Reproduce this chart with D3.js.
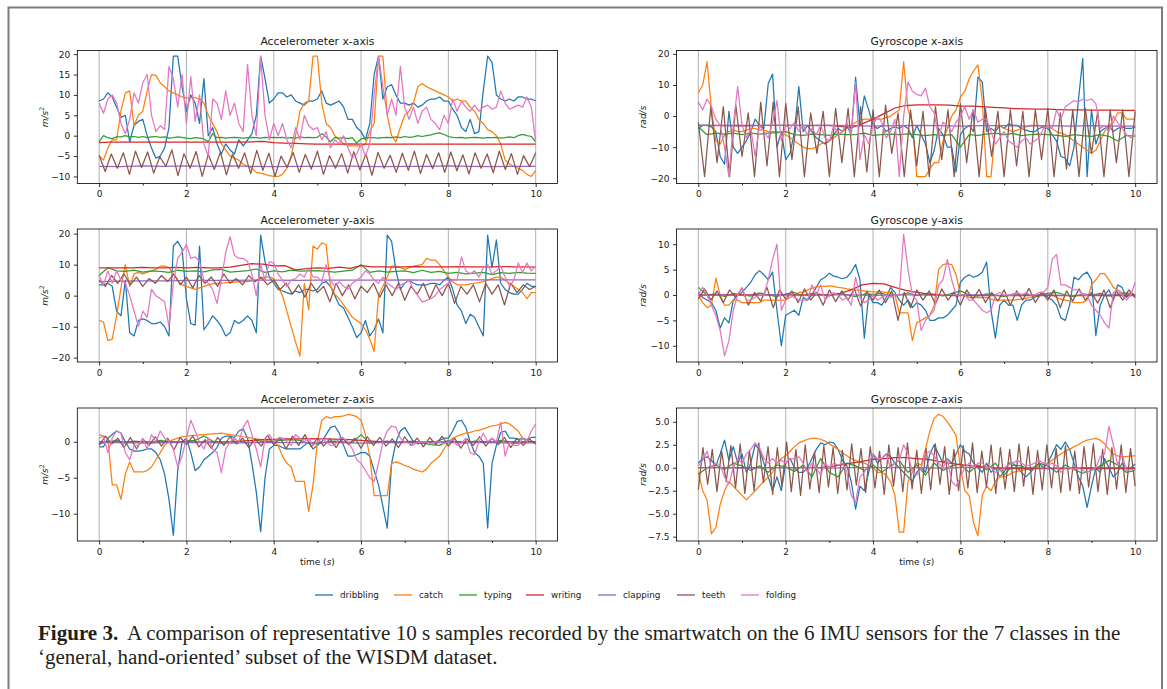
<!DOCTYPE html>
<html><head><meta charset="utf-8">
<script src="https://cdn.jsdelivr.net/npm/d3@7"></script>
<style>body{margin:0;background:#fff}svg{display:block}</style>
</head><body>
<svg id="c" width="1167" height="689"></svg>
<script>
// ---------------- DATA ----------------
const classes = ["dribbling","catch","typing","writing","clapping","teeth","folding"];
const colors = ["#1f77b4","#ff7f0e","#2ca02c","#d62728","#9467bd","#8c564b","#e377c2"];
const xTicks = [0,2,4,6,8,10];
const xMinorTicks = [1,3,5,7,9];
const xDomain = [-0.5,10.5];
const duration = 10; // seconds per sample

const accXTicks = [-10,-5,0,5,10,15,20];
const accYTicks = [-20,-10,0,10,20];
const accZTicks = [-10,-5,0];
const gyroXTicks = [-20,-10,0,10,20];
const gyroYTicks = [-10,-5,0,5,10];
const gyroZTicks = [-7.5,-5,-2.5,0,2.5,5];

const accXDomain = [-11.73,20.9];
const accYDomain = [-21.4,21.5];
const accZDomain = [-13.8,4.7];
const gyroXDomain = [-21.7,21.1];
const gyroYDomain = [-13.2,13.0];
const gyroZDomain = [-7.97,6.5];

// ---- Accelerometer x ----
const accX_dribbling = [8.5,9,10.5,9.5,7,4.5,5,-1.5,2.5,3.5,
4,0,-3,-5.5,-5,-3,2,19.5,19.5,12,
6,10,8,3,14,0,2,-2,-4.5,-2,
-3.5,-4.5,-1,-2.5,-1,0.5,5,19.5,14,8,
9,10.5,10.5,9.5,10,8.5,8,7.5,8.5,8.5,
9,11,8,7.5,8,8.5,7,4,4,2,
1,-1,3,15,19.5,9,12,12.5,10,8,
8,7.5,8,7,7.5,8.5,9,9,9.5,8.5,
8.5,6.5,5,2,1,4,0.5,1,11,19.5,
18,10,9,8.5,9,8.5,9.5,9.5,9,9,
8.5];
const accX_catch = [-5,-6,-3,-1,-1,6,10.5,11,2.5,5,
6,11,15,14.8,13,12,11,10.5,10,9.5,
9.3,9.3,9.3,9,8,5,3,1,-2,-3.5,
-5,-5.5,-6,-7,-7.5,-8,-9,-9.2,-9.5,-9.8,
-10,-10,-9.5,-8,-5,0,6,8,8.5,19.5,
19.5,8,3,2,0,-1,-2,-2.5,-2.5,-2.5,
-2.5,-2,1,3,19.5,19.5,5,0,-1.5,2,
5,6,8,12,12.8,12,11.5,11,10.5,10,
9.5,8.5,9,8.5,8.5,7,6,4,3,1.5,
1,0,-2,-6,-7,-7.5,-8,-8.5,-9.5,-10,
-8.5];
const accX_typing = [-1.5,0,-0.5,-0.7,-0.3,-0.3,0,-0.3,-0.2,-0.4,
-0.2,-0.5,-0.3,-0.2,-0.4,-0.3,-0.6,-0.5,-0.3,-0.4,
-0.6,-0.7,-0.5,-0.6,-0.8,-1.5,0.5,-0.5,-0.4,-0.6,
-0.5,-0.4,-0.5,-0.6,-0.5,-0.4,-0.5,-0.6,-0.4,-0.5,
-0.4,-0.5,-0.4,-0.6,-0.5,-0.6,-0.3,-0.5,-0.4,-0.5,
-0.4,0.5,-0.3,-1.5,-0.4,-0.6,-0.5,-0.7,-0.5,-1.8,
-0.8,-0.6,-0.5,-0.5,-0.6,-0.5,-0.4,-0.5,-0.3,-0.5,
-0.2,-0.4,-0.3,0,-0.2,0,0.2,0.5,0.7,0.3,
-0.2,-0.4,-0.5,-0.4,-0.6,-0.5,-0.4,-0.5,-0.6,-0.5,
-0.5,-0.4,-0.6,-0.5,-0.3,-0.5,0,0.3,0,-0.2,
-1.5];
const accX_writing = [-1.7,-1.6,-1.6,-1.6,-1.6,-1.6,-1.6,-1.6,-1.6,-1.6,-1.6,-1.6,-1.6,-1.6,-1.5,-1.4,-1.7,-1.8,-1.9,-2.0,-2.1,-2.1,-2.1,-2.0,-2.1,-2.1,-2.1,-2.1,-2.1,-2.1,-2.1,-2.1,-2.1,-2.1,-2.1,-2.1,-2.1,-2.1,-2.1,-2.1,-2.1];
const accX_clapping = [-7.5,-7.6,-7.4,-7.5,-7.4,-7.5,-7.4,-7.5,-7.6,-7.5,-7.5,-7.4,-7.5,-7.6,-7.5,-7.5,-7.4,-7.5,-7.6,-7.5,-7.5];
const accX_teeth = [-4.8,-8.8,-4.5,-8,-4.2,-9.5,-3.8,-7.8,-4,-9.2,-5.2,-7.5,-3.5,-9.8,-4.4,-8,-3.9,-10,-4.6,-8.3,-4,-9.6,-4.5,-8,-4.2,-9.3,-3.6,-8.5,-4.3,-10,-5,-7.8,-4.1,-9,-4.6,-8.2,-3.8,-9.5,-4.9,-8,-4.4,-9.2,-3.9,-8.4,-4.5,-9.7,-4.1,-8,-4.8,-9,-4.3,-8.5,-3.8,-9.3,-4.6,-8.1,-4.2,-9,-4,-8.6,-4.7,-9.4,-4.2,-8,-4.5,-9.1,-3.8,-8.3,-4.4,-9.5,-4.9,-7.6,-4.2];
const accX_folding = [8,5.5,9,10,8,3,0.5,4,10.5,8,
13,15,5,1,2.5,1.5,17,14,7,15,
3,14.5,3.5,10,-2,-5,9,8,4,11,
5,8,3,1,17.5,5,0,19.5,5,-1,
3,0,3,-1,-3,2,-1,5,2.5,1.5,
2,-1,1,-3,-1,-2,0,-3,-5.5,-4.5,
-2,-5,-2,10,19.5,12,5,9,5,17,
7,4,7,3,6,7,4,3,1.5,5,
3,9,6,8.5,7,6,7.5,6,7,7.5,
6.5,7,11,8,6.5,7,7.5,7,9.5,7,
-1.5];

// ---- Gyroscope x ----
const gyroX_dribbling = [-4,-3,-3,-3.5,-5,-13,-15.5,1.5,-10,-12,
-10,-8,-5,-1,-3,-4,10.5,13.5,-10,-5,
-14,-12,-5,9.5,-5,-3,-5,-7,-8,-9,
-8,-6,-4,-5,-3,-6,12.5,-3,6.5,2,
-3,-4,-3,-5,-4,-3.5,-4,-3,-4,-7,
-3,-6,-9,-15,-11,-4,-6,-10,-10,-18,
-6,-4,-3,-5,12.5,11,-5,-4,-5,-3,
-4,-2.5,-3,-3,-4,-4.5,-5,-5,-4,-3.5,
-4,-6,-8,-13,-13.5,-16,-10,5,18.5,-19.5,
2,-9,-5,-4,-3,-5,-4,-3.5,-4,-4,
-3.5];
const gyroX_catch = [7.5,10,17.5,2,-8,-9,-6,-5,-4.5,-5,
-5,-4.5,-4,-4,-4.5,-4.5,-5,-5,-5,-5.5,
-6,-7,-8,-9,-10,-10.5,-10.5,-10,-9,-8.5,
-8,-7,-6,-5,-4,-3,-2,-1.5,-1,-1,
-1,-1,-1,-0.5,0,1,2,17.5,2,-2,
-19.5,-19.5,-19.5,-17,-15,-15,-8,-4,0,2,
6,8,12,14.5,16.5,5,-19.5,-19.5,-4,-3,
-4,-4.5,-5,-4.5,-4,-3.5,-3,-3,-3,-3.2,
-3.5,-4,-5,-5.5,-6,-7,-8,-9,-10,-11,
-12,-11,-8,-5,-3,-2,1,1,-1,-1,
-1];
const gyroX_typing = [-3.5,-6,-5.5,-5.8,-5.5,-6,-5.5,-5.8,-5.5,-5.3,-5,-6,-6.2,-5.8,-6,-6.2,-5.8,-6,-6,-5.5,-6.2,-6,-5.8,-6,-5.7,-6,-6.3,-6,-6.2,-6,-10,-6,-6.2,-5.8,-5.5,-6,-5.6,-6.3,-6,-5.8,-6,-6.2,-6.5,-6,-6.3,-6.5,-6,-6.5,-8,-6.2,-6.5];
const gyroX_writing = [-3,-3,-3,-3,-3,-3,-3,-3,-3,-3,-3,-3,-3,-3.3,-3.7,-2.5,-1,0.8,2.6,3.4,3.6,3.6,3.6,3.5,3.2,3.2,3,2.8,2.6,2.4,2.3,2.2,2.2,2.1,2,2,1.9,1.9,1.9,1.8,1.8];
const gyroX_clapping = [-3,-3.1,-3.2,-3,-3,-3.1,-3,-3.1,-3.2,-3.1,-3,-3.1,-3.2,-3.1,-3.1,-3.2,-3.1,-3.2,-3.1,-3.2,-3.2];
const gyroX_teeth = [-2,-19.5,3,-15,3,-19.5,3.5,-13,1,-19.5,4.5,-16,4.5,-19.5,4,-14,3,-19.5,1,-12,1.5,-19.5,2.5,-15,2.5,-19.5,3,-18,2,-19.5,3.5,-12,1,-19.5,2,-16,1.5,-19.5,3,-14,2,-19.5,4,-15,2,-19.5,2.5,-13,1.5,-19.5,2,-16,1.5,-19.5,2,-14,2.5,-19.5,1,-17,2,-19.5,2.5,-12,1.5,-19.5,2,-15,2,-19.5,1.5];
const gyroX_folding = [4.5,2,5.5,3,-1,-3,-10,-19.5,-3,9.5,
-3,-7,-4,-13,-3,-5,-7,-2,5,-8,
-3,-4,-2,-5,-3,-6,-4,-6,-3,-7,
-8,-3,-6,-5,-2,-6,11,-14,-6,-9,
-3,0,-2,-7,-5,-1,-19.5,0,11,8,
7,6.5,9,3,1,-7,-2,-3,-5,-2,
0,3,-1,2,-2,-1,-1,-5,-9,-7,
-5,-8,-9,-10,-8,-7,-9,-8,-7,-4,
-3,-4,2,-1,3,4,5,4.5,5.5,5,
5.5,4,-4,-3,-5,0,-2,-4,-6,-7,
-6];

// ---- Accelerometer y ----
const accY_dribbling = [3.5,3.5,4,3,-5,-6.5,5,-12,-13,-8,
-7.5,-8,-9,-9,-8.5,-10,-13,16,17.5,15,
-1,-9,-9.5,16,-11,-9,-6.5,-8,-10,-13,
-12,-8,-9,-8,-6.5,-8,-12,19.5,11,6,
4,2,1.5,1,0.5,1.5,1,2,2,1.5,
2,4,4.5,3,0,-3,-4,-7,-10,-13.5,
-12,-8,-13,-11,-7.5,-12,19.5,17.5,8,2,
4,5,4,3.5,3.5,3.5,4,4,3.5,5,
6,2,-3,-5,-9,-6,-7,-10,-13,19.5,
9,18,4,2,1,0.5,0.5,2,4,3,
3];
const accY_catch = [-8,-8.5,-14.5,-14,-6.5,2.5,10,3,7,7.5,
7,7.5,8,8.5,9.5,9.5,9,7,5,3.5,
3,2.5,2,2.5,3,3.5,3.8,4,4,4.2,
4.3,4.4,4.5,4.5,4.5,4.8,5,5.5,6,6,
5.5,3,0,-5,-10,-15,-19.5,4,-4.5,16,
15,17,16.5,3,0.5,-1,-3,-5,-7,-8,
-9,-11,-14,-18,0,3,6,9.5,9.5,9,
8.5,9,9.5,9.8,10,12,11.5,11.5,10,8,
6,4.5,3.5,3.5,3.5,3.8,4,4.2,4.5,5,
5.5,6,6,5,4,3,2,1,-1,1,
1];
const accY_typing = [6.5,9,8,7.8,8.2,7.6,8,7.8,7.5,8.2,7.8,8,7.7,8.3,8.5,7.6,7.8,8.1,8.6,7.5,8,7.7,8.2,7.9,8,8.1,7.8,7.6,7.9,8.2,10,7.5,8,7.6,7.8,8,7.4,8.2,7.5,7.8,7.2,7.5,7,7.3,7.5,6.8,7.4,7.2,7.5,7.3,7.2];
const accY_writing = [9,9,9,9,9.1,9,9,9.1,9,9.1,9,9,9.2,9.8,10.3,10.2,9.6,9.7,8.3,8.7,9,8.8,9.2,8.8,9.7,9.3,9.3,9.2,9.3,9.4,9.3,9.3,9.3,9.4,9.3,9.3,9.3,9.4,9.3,9.3,9.2];
const accY_clapping = [4.5,4.7,4.8,4.8,4.9,4.9,4.9,5,5,4.9,5,5,5,5,5.1,5,5.1,5.1,5.1,5.1,5.1];
const accY_teeth = [5,3,6.5,4,7,3.5,6,3,5.5,4,6.5,4.5,7,3.5,6,2.5,6.5,4,6,3,7,4,5.5,3.5,6.5,4.5,6,3.5,5,2,4,0.5,3.5,-0.5,4,1,3,-2,4,0,3.5,-1,3,1,4,-0.5,3.5,0,4,-1.5,3,0.5,4,-1,3.5,0,4,-2.5,3,0.5,3.5,-2,4,0.5,3.5,-3,4,1,3.5,2,3];
const accY_folding = [6.5,3.5,8,4,8,5,4,0,-5,-10,
-5,-7,2,0,-1,-2,-10,4,12,14,
16.5,12,12.5,11,5,4,2,-2.5,5,14,
19,13,12,12,11,7,0,10,5,11,
10.5,7,5,3,5,5.5,7,6,9,6,
6,4.5,10,5,3,4.5,3,2,4,5,
6,8,7,5,4,6,4,3,2,3.5,
4,5,2,0,-2,-1.5,-1,0,2,3,
4,5,5,12.5,8,7,8,6,9,10,
7,8,9.5,6,3,5,10.5,7.5,10.5,8,
9.5];

// ---- Gyroscope y ----
const gyroY_dribbling = [0.5,-0.5,-1,-1.5,-3,-6.5,-4.5,-5.5,-1,0,
0.5,1.5,2.5,4,4.8,4,3,4.5,-3,-10,
-4,-3.5,-3,-4,-0.5,-1,0,1.5,3,3.5,
4.3,3.7,3.5,3.2,3.5,4.5,6,3,-8.5,0,
-1.5,-1.5,-2,-0.5,1.5,0.5,-1,-2,-1,-2.5,
-1.5,-2,-3,-5,-5,-4.5,-4.5,-4,-3,-2,
2.5,3.5,4,3.5,3.8,4.5,6.5,-3,-8.5,-2,
-1,-2,-2,-5,-2,-1,-1,-0.5,0,0.5,
-0.5,-1,-2,-4.5,-5,-2,3.5,3,4,4.5,
3,-8,-2,0,1,-1,2,1.5,-0.5,0.5,
0];
const gyroY_catch = [0,-1.5,-2.5,-2,3.3,0,-2,-2,-1,-1,
-1.5,-1.5,-1.5,-1.5,-1.5,-1,-1,-1,-1,-1,
-1,-0.5,0,0.5,0.5,1,1.3,1.6,1.7,1.7,
1.8,1.7,1.5,1.4,1.2,1.1,1,0.9,0.8,0.7,
0.6,0.6,0.6,0.5,0.5,0,-3.5,-3.5,-3.5,-9,
-5.5,-5,-4.5,-4,-2,5,6,6.2,6,4,
0,0,-0.5,-0.5,-0.5,-0.5,-0.5,-0.8,-1,-1,
-1,-1,-1,-0.9,-0.8,-0.6,-0.5,-0.2,0,0.2,
0.3,0,-0.5,-0.8,-1,-1.2,-1.5,-1.5,-1.5,-1,
2,3,4.2,4.2,3,1.5,1,0.5,0,0.5,
0];
const gyroY_typing = [1.5,0,0.2,-0.3,0.3,0,-0.2,0.4,0,-0.3,0.2,0.5,-0.2,0.3,0.1,-0.2,0.3,0,-0.3,0.2,0.1,0.3,-0.2,0,0.4,-0.1,0.2,0.1,-0.2,0.3,0.8,0,-0.2,0.2,0,-0.3,0.2,0.1,0,-0.2,0.3,0.5,0,-0.3,0.2,0,0.3,-0.2,0.1,0.4,-0.3];
const gyroY_writing = [0,0,0,0,0,0,0,0,0,0,0,0,0,0.3,1,2,2.3,2.2,1.5,0.9,0.5,0.2,0,-0.1,-0.1,-0.1,-0.1,-0.1,-0.1,-0.1,-0.1,-0.1,-0.1,-0.1,-0.1,-0.1,-0.1,-0.1,-0.1,-0.1,-0.1];
const gyroY_clapping = [-0.1,0,-0.1,0,0,-0.1,0,0,-0.1,0,0,-0.1,0,0,-0.1,0,0,-0.1,0,0,0];
const gyroY_teeth = [-0.8,1.2,-1.0,0.8,-1.5,1.0,-0.5,1.3,-2.0,0.5,-1.2,1.5,-2.5,1.0,-0.8,0.8,-1.5,1.2,-1.0,0.5,-2.0,1.0,-1.3,0.8,-1.0,1.2,-2.2,0.7,-1.0,1.0,-1.5,0.8,-5.0,0.5,-2.5,1.0,-1.0,0.8,-1.8,1.2,-1.0,0.6,-2.0,1.0,-0.8,1.1,-1.5,0.5,-1.2,1.0,-2.0,0.8,-1.0,1.3,-1.5,0.6,-1.0,1.0,-2.5,0.8,-1.2,1.2,-1.0,0.5,-1.6,1.0,-2.5,0.8,-1.0,1.0,-0.5];
const gyroY_folding = [0,1.5,0,-2,-4,-7,-12,-9,-3,0,
1.5,-1,-1,-0.5,0,0,3,7,10,-3,
-1,0,-0.5,-1,-1,-1,2,0,2,-1,
0,0.5,0,-1,-0.5,-2,3.5,-0.5,-1.5,-1,
0,-1,-0.5,0,-0.5,0,0,12,5,0,
-1,-7,-5,-4,-3,2,3,7,3,0,
0,0,-1,-1,-2,-3,-3.5,-3,0,0.5,
0,0,0,0.5,0,0.5,0,0,0.5,0.5,
1.5,7,8,2,2,1.5,1,1,0,0,
-2,-3,-4,-5.5,-6.5,0.5,1,0,-1,0,
2.5];

// ---- Accelerometer z ----
const accZ_dribbling = [-0.7,-0.7,0.5,1,1.5,1.2,0,-1,-1.3,-1.3,
-1.2,-1,-1,-1.5,-2.5,-4.5,-8,-13,-4,0,
0.5,-1.5,-4,-3.5,-2.5,-2,-1.5,-0.8,0.5,0.8,
0.8,0.6,1.5,1.8,0.5,-3,-7,-12.5,-5,-1,
-0.5,-0.5,-0.8,-1,-1,-1,-1,-0.5,0,-1,
-0.5,0,1,2,2.2,1.2,-0.5,-2,-2,-1.8,
-1.5,-1.5,-2,-4,-6,-9,-12,-3,0,1.5,
2,1,0,-0.3,0,0,0,0,0.2,0.5,
0.5,1.5,2.8,3,2,0,-1.5,-2,-3,-12,
-3,-0.5,1.3,1.5,0.5,0.5,0.3,0.5,0.3,0.6,
0.6];
const accZ_catch = [0.5,0.8,0.5,-6,-6,-8,-4.5,-2.8,-4.2,-4.2,
-4.2,-4,-3.5,-2.5,-1.5,-0.5,0,0.3,0.5,0.7,
0.8,0.85,0.9,0.95,1,1.05,1.1,1.15,1.2,1.1,
1,0.9,0.8,0.7,0.6,0.5,0.4,0.3,0.2,0.1,
0,-0.5,-2,-3,-3.5,-5.5,-5.5,-5.5,-9.7,-6,
0,3,3.5,3.3,3.5,3.5,3.6,3.8,3.7,3.5,
3,1,-2,-7.5,-7.5,-7.5,-7.5,-3,-2.8,-3,
-3.3,-3.5,-3.8,-4,-4.2,-3.8,-3,-2.5,-2,-1,
0,0.5,0.8,1,1.2,1.3,1.5,1.6,1.8,2,
2.2,2.3,2.5,2.7,2.5,2,1.5,0.5,0.2,0,
0];
const accZ_typing = [-0.3,0,0.2,-0.2,0.1,0,-0.2,0.2,0,-0.1,0.1,0.2,0.8,0.1,-0.2,0,0.1,-0.2,0.2,0,0.1,0.2,0.3,0.2,-0.2,-0.3,0,0.1,0,-0.1,1.0,-0.2,0,0.1,-0.2,0,0.1,-0.2,-0.4,-0.5,0.2,0,-0.2,0.1,0,-0.1,0.2,0,-0.2,0.1,-0.2];
const accZ_writing = [0,0,0,0,0,0,0,0,0,0,0,0,0,0.1,0.2,0.3,0.35,0.4,0.4,0.45,0.4,0.4,0.35,0.3,0.2,0.1,0,0,0,0,0,0,0,0,0,0,0,0,0,0,0];
const accZ_clapping = [-0.1,-0.1,-0.2,-0.1,-0.1,-0.1,-0.2,-0.1,-0.1,-0.1,-0.1,-0.1,-0.2,-0.1,-0.1,-0.1,-0.1,-0.1,-0.1,-0.2,-0.1];
const accZ_teeth = [-0.5,0.8,-0.3,0.5,-0.8,0.6,-1.0,0.4,-0.5,0.7,-0.6,0.5,-1.1,0.6,-0.4,0.8,-0.7,0.3,-0.9,0.6,-0.5,0.7,-0.3,0.5,-0.8,0.4,-0.6,0.9,-0.4,0.6,-1.0,0.8,-0.5,1.0,-0.7,0.5,-0.6,0.4,-0.8,0.6,-0.4,0.5,-0.9,0.7,-0.5,0.6,-0.6,0.4,-0.8,0.7,-0.5,0.5,-0.7,0.6,-0.4,0.8,-0.6,0.5,-0.9,0.4,-0.5,0.7,-0.6,0.5,-0.4,0.6,-0.8,0.5,-0.5,0.4,-0.3];
const accZ_folding = [1,0.8,-1.5,0.5,1.5,1.2,-1.5,-2.5,-0.5,-0.5,
0.5,-1,1,0,1.5,0.5,0,-1,-3.5,-2,
0.5,3,1.5,0,-1,0.5,-1,-1.5,-4.3,-1,
0,0.5,0,2,3,1,-1,-3.5,0.5,1,
0,0.5,0.5,0,-0.5,1,0.5,0,0.5,-0.5,
0,0.5,0,-0.5,-0.5,0.5,0.5,0,-1,-2.5,
-3,-4,-5,-5.5,-3,0,1.5,2.2,2,0.5,
0,-0.2,-0.5,0,0,0,-0.3,0,0,-0.3,
0,0.3,-0.5,-0.2,0.5,-1.5,-1.8,0,1.2,0,
0.5,0,2.7,-2,0,-0.5,-0.5,0.5,0,1.5,
2.5];

// ---- Gyroscope z ----
const gyroZ_dribbling = [0.5,1,1.2,0.8,0.2,1.5,3,0.8,2.3,0.5,
1.5,-0.5,0.5,2.5,2,0.5,-1,-2.5,-1,-2.5,
0.5,1,0,-0.5,-0.5,0,1,2,2.7,2.5,
2.8,2.7,2,0.8,0.2,-1.5,-4.5,-2,-2.5,-0.5,
1.5,0.5,1,1.5,1.2,0.5,0,-0.5,-1,-1.5,
-0.5,0,-0.5,1.5,2.5,1.5,0.5,1,0.5,1.5,
2.5,1.8,1.5,0.5,0,-0.5,0.5,-0.5,0,-1,
-0.5,0.5,0.5,0,-0.5,-1,-0.5,0,0.5,0,
0.5,1.5,2.5,2,2.8,2,0.5,-1,-2,-4.3,
-2,0,-0.5,1,0,-1,-0.5,0.5,0,0,
0.4];
const gyroZ_catch = [-0.5,-2.5,-3.5,-7.2,-6.5,-4,-2.5,-1.5,-2,-2.5,
-3,-3.5,-3,-2.5,-2,-1.5,-1,-0.5,0.5,1,
1.3,1.8,2.3,2.7,2.9,3.1,3.2,3.2,3.1,2.9,
2.6,2.3,2,1.6,1.3,1,0.8,0.6,0.5,0.3,
0,-0.5,-0.5,-0.8,-1.5,-3,-7,-7,-1.5,-0.5,
0.5,0.3,2,4,5.4,5.8,5.6,5,4.3,3.5,
0,-2.5,-3,-6,-7.4,-3,-2,-2.5,-1.5,-1,
-1,-0.8,-0.5,-0.4,-0.3,-0.2,0,0.1,0.2,0.3,
0.5,0.8,1.2,1.5,1.8,2,2.3,2.5,2.8,3,
3.1,3.2,3,2.6,2,1.5,1.3,1.2,1.2,1.3,
1.3];
const gyroZ_typing = [-0.7,0,0.3,-0.2,0.5,0.2,-0.3,0.2,-0.5,0.3,0.1,-0.4,0.3,-1.0,1.0,-0.5,-1.0,0.5,0.2,-0.3,0.3,-0.5,0.2,0.8,-0.5,0.3,-0.8,0.5,-0.3,0.2,0.4,-0.5,0.3,-0.2,0.5,-0.8,0.3,0.2,-0.3,0.5,0.2,-0.5,0.3,-0.2,-0.6,-0.3,0.2,0.8,0.3,-0.5,-0.3];
const gyroZ_writing = [0,0,0,0,0,0,0,0,0,0,0,0,0.1,0.3,0.5,0.7,0.9,1.0,1.1,1.1,1.0,0.9,0.7,0.5,0.35,0.2,0.1,0,-0.1,-0.1,-0.1,-0.1,-0.1,-0.1,-0.1,-0.1,-0.1,-0.1,-0.1,-0.1,-0.1];
const gyroZ_clapping = [0,0,-0.05,0,0,0,-0.05,0,0,0,0,-0.05,0,0,0,0,-0.05,0,0,0,0];
const gyroZ_teeth = [-2.4,2.2,-1.8,2.0,-2.6,1.8,-1.5,2.4,-2.2,2.6,-2.8,1.9,-2.5,2.7,-1.6,2.3,-2.9,2.2,-2.0,2.8,-2.6,2.0,-3.0,2.5,-2.3,1.7,-2.7,2.4,-2.1,2.2,-2.8,1.9,-2.4,2.6,-1.9,2.1,-2.7,2.3,-2.2,1.8,-2.9,2.5,-2.0,2.2,-2.6,2.7,-2.3,1.9,-2.8,2.1,-2.4,2.6,-1.8,2.3,-2.9,2.0,-2.5,2.4,-2.2,2.7,-2.7,1.8,-2.1,2.5,-2.8,2.2,-2.3,2.0,-2.6,2.6,-2.0,2.3,-2.9,1.9,-2.4,2.5,-2.2,2.1,-2.7,2.4,-2.5,1.8,-2.8,2.3,-2.1,2.6,-2.6,2.0,-2.9,2.2,-2.3,2.5,-2.7,2.1,-2.0];
const gyroZ_folding = [0.2,0.8,1.8,0,0.5,0.3,-1,-1.8,0,1,
0.5,1.5,2,2.7,2.2,1,0.5,1,0.5,0.8,
0.5,1,1,1.2,0.5,-0.5,0.5,0,-0.8,0.5,
0,0.5,0.3,0.5,-0.5,-3,-3.8,-1,-0.5,0.5,
1.5,1,1,1.5,0,0.5,0.8,2.5,1.5,-0.5,
-0.8,0,1.5,1.8,1.3,0.5,0,1,-1.5,-2,
-1,0,0.5,0,0.5,0.5,0,0,-0.5,-0.3,
0,0.3,0.5,0.8,0.5,0.2,0.3,0.5,0.8,0.5,
0.3,0.5,0.2,-0.5,0,0,-0.2,0,-0.3,-0.5,
-0.3,0,1.2,1.5,4.5,2.5,0.3,1.5,-0.3,-0.2,
-0.2];

const captionBold = "Figure 3.";
const captionLine1 = "A comparison of representative 10 s samples recorded by the smartwatch on the 6 IMU sensors for the 7 classes in the";
const captionLine2 = "\u2018general, hand-oriented\u2019 subset of the WISDM dataset.";

// ---------------- PANELS ----------------
const panels = [
  {title:"Accelerometer x-axis", unit:"acc", ticks:accXTicks, domain:accXDomain, col:0, row:0, fmt:"d",
   series:[accX_dribbling,accX_catch,accX_typing,accX_writing,accX_clapping,accX_teeth,accX_folding]},
  {title:"Gyroscope x-axis", unit:"gyro", ticks:gyroXTicks, domain:gyroXDomain, col:1, row:0, fmt:"d",
   series:[gyroX_dribbling,gyroX_catch,gyroX_typing,gyroX_writing,gyroX_clapping,gyroX_teeth,gyroX_folding]},
  {title:"Accelerometer y-axis", unit:"acc", ticks:accYTicks, domain:accYDomain, col:0, row:1, fmt:"d",
   series:[accY_dribbling,accY_catch,accY_typing,accY_writing,accY_clapping,accY_teeth,accY_folding]},
  {title:"Gyroscope y-axis", unit:"gyro", ticks:gyroYTicks, domain:gyroYDomain, col:1, row:1, fmt:"d",
   series:[gyroY_dribbling,gyroY_catch,gyroY_typing,gyroY_writing,gyroY_clapping,gyroY_teeth,gyroY_folding]},
  {title:"Accelerometer z-axis", unit:"acc", ticks:accZTicks, domain:accZDomain, col:0, row:2, fmt:"d", xlabel:true,
   series:[accZ_dribbling,accZ_catch,accZ_typing,accZ_writing,accZ_clapping,accZ_teeth,accZ_folding]},
  {title:"Gyroscope z-axis", unit:"gyro", ticks:gyroZTicks, domain:gyroZDomain, col:1, row:2, fmt:".1f", xlabel:true,
   series:[gyroZ_dribbling,gyroZ_catch,gyroZ_typing,gyroZ_writing,gyroZ_clapping,gyroZ_teeth,gyroZ_folding]}
];

// ---------------- LAYOUT ----------------
const W = 1167, H = 689;
const colX = [[77.3,557.5],[676.5,1157]];
const rowY = [[50.5,183.5],[229,362],[408,541]];
const ylabelX = [47.5,645.5];
const sans = "'DejaVu Sans', Verdana, sans-serif";
const txt = "#1a1a1a";

const svg = d3.select("#c");
svg.append("rect").attr("width",W).attr("height",H).attr("fill","#fff");
svg.append("rect").attr("x",8.5).attr("y",7.5).attr("width",1153.5).attr("height",720)
  .attr("fill","none").attr("stroke","#7d7d7d").attr("stroke-width",2);

panels.forEach((p,pi)=>{
  const [x0,x1] = colX[p.col], [y0,y1] = rowY[p.row];
  const x = d3.scaleLinear().domain(xDomain).range([x0,x1]);
  const y = d3.scaleLinear().domain(p.domain).range([y1,y0]);
  const g = svg.append("g");
  g.append("clipPath").attr("id","clip"+pi).append("rect")
    .attr("x",x0).attr("y",y0).attr("width",x1-x0).attr("height",y1-y0);

  // vertical grid
  g.append("g").selectAll("line").data(xTicks).join("line")
    .attr("x1",d=>x(d)).attr("x2",d=>x(d)).attr("y1",y0).attr("y2",y1)
    .attr("stroke","#b8b8b8").attr("stroke-width",1.1);

  // series
  const lg = g.append("g").attr("clip-path",`url(#clip${pi})`);
  p.series.forEach((s,si)=>{
    const n = s.length;
    const line = d3.line().x((d,i)=>x(i*duration/(n-1))).y(d=>y(d));
    lg.append("path").attr("d",line(s)).attr("fill","none")
      .attr("stroke",colors[si]).attr("stroke-width",1.25)
      .attr("stroke-linejoin","round").attr("stroke-linecap","butt");
  });

  // spines
  g.append("rect").attr("x",x0).attr("y",y0).attr("width",x1-x0).attr("height",y1-y0)
    .attr("fill","none").attr("stroke","#000").attr("stroke-width",0.8);

  // axes
  const xa = g.append("g").attr("transform",`translate(0,${y1})`)
    .call(d3.axisBottom(x).tickValues(xTicks).tickSize(3.5).tickPadding(4).tickFormat(d3.format("d")));
  const xm = g.append("g").attr("transform",`translate(0,${y1})`)
    .call(d3.axisBottom(x).tickValues(xMinorTicks).tickSize(2).tickFormat(""));
  const ya = g.append("g").attr("transform",`translate(${x0},0)`)
    .call(d3.axisLeft(y).tickValues(p.ticks).tickSize(3.5).tickPadding(3.5).tickFormat(d3.format(p.fmt)));
  [xa,xm,ya].forEach(a=>{
    a.select(".domain").remove();
    a.selectAll(".tick line").attr("stroke","#000").attr("stroke-width",0.8);
    a.selectAll(".tick text").attr("font-family",sans).attr("font-size",9).attr("fill",txt);
  });

  // title
  g.append("text").attr("x",(x0+x1)/2).attr("y",y0-5.5).attr("text-anchor","middle")
    .attr("font-family",sans).attr("font-size",10.8).attr("fill",txt).text(p.title);

  // y label
  const yl = g.append("text").attr("transform",`translate(${ylabelX[p.col]},${(y0+y1)/2}) rotate(-90)`)
    .attr("text-anchor","middle").attr("font-family",sans).attr("font-size",9).attr("fill",txt);
  if(p.unit==="acc"){
    yl.append("tspan").attr("font-style","italic").text("m/s");
    yl.append("tspan").attr("font-size",6.3).attr("dy",-3.5).text("2");
  } else {
    yl.append("tspan").attr("font-style","italic").text("rad/s");
  }

  // x label
  if(p.xlabel){
    const xl = g.append("text").attr("x",(x0+x1)/2).attr("y",y1+23.5)
      .attr("text-anchor","middle").attr("font-family",sans).attr("font-size",9).attr("fill",txt);
    xl.append("tspan").text("time (");
    xl.append("tspan").attr("font-style","italic").text("s");
    xl.append("tspan").text(")");
  }
});

// ---------------- LEGEND ----------------
const legendStarts = [315,394,459,526,598,677,741];
const leg = svg.append("g");
classes.forEach((c,i)=>{
  const lx = legendStarts[i];
  leg.append("line").attr("x1",lx).attr("x2",lx+18).attr("y1",595).attr("y2",595)
    .attr("stroke",colors[i]).attr("stroke-width",1.3);
  leg.append("text").attr("x",lx+25).attr("y",598).attr("font-family",sans)
    .attr("font-size",8.8).attr("fill",txt).text(c);
});

// ---------------- CAPTION ----------------
const serif = "'Liberation Serif','DejaVu Serif',serif";
const c1 = svg.append("text").attr("y",640).attr("font-family",serif).attr("fill","#231f20");
c1.append("tspan").attr("x",38).attr("font-weight","bold").text(captionBold);
const t1 = c1.append("tspan").attr("x",127).text(captionLine1);
c1.attr("font-size",18);
const len1 = t1.node().getComputedTextLength();
const fs = 18*994/len1;
c1.attr("font-size",fs);
svg.append("text").attr("x",38).attr("y",664).attr("font-family",serif)
  .attr("fill","#231f20").attr("font-size",fs).text(captionLine2);
</script>
</body></html>
